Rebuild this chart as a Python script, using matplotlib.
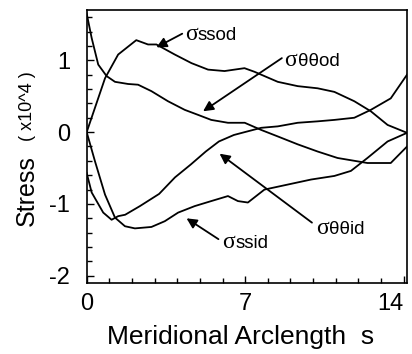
import matplotlib
matplotlib.use("Agg")
import matplotlib.pyplot as plt
from matplotlib.ticker import MultipleLocator

plt.rcParams['font.family'] = ['Liberation Sans', 'DejaVu Sans']
plt.rcParams['axes.unicode_minus'] = False

# --- data (meridional arclength s, stress x10^4) ---
s_ssod = [0.0, 0.81, 1.39, 2.19, 2.71, 3.08, 3.89, 4.63, 5.36, 6.09, 6.97, 7.41,
          7.85, 8.44, 9.32, 10.2, 10.94, 11.82, 12.55, 13.29, 14.15]
v_ssod = [0.0, 0.75, 1.08, 1.28, 1.22, 1.22, 1.08, 0.96, 0.87, 0.85, 0.89, 0.84,
          0.78, 0.70, 0.64, 0.61, 0.56, 0.43, 0.29, 0.10, -0.01]

s_ttod = [0.0, 0.22, 0.51, 0.88, 1.25, 1.83, 2.27, 2.86, 3.59, 4.33, 4.92, 5.5,
          6.24, 6.98, 7.71, 8.44, 9.32, 10.2, 11.08, 12.4, 13.43, 14.15]
v_ttod = [1.65, 1.31, 0.94, 0.78, 0.70, 0.67, 0.66, 0.57, 0.43, 0.31, 0.24, 0.17,
          0.13, 0.13, 0.03, -0.06, -0.17, -0.27, -0.36, -0.43, -0.43, -0.20]

s_ssid = [0.0, 0.37, 0.81, 1.25, 1.69, 2.13, 2.86, 3.45, 4.04, 4.77, 5.5, 6.24,
          6.68, 7.12, 7.85, 8.88, 9.91, 10.94, 11.67, 12.4, 13.29, 14.15]
v_ssid = [0.0, -0.41, -0.87, -1.19, -1.31, -1.34, -1.32, -1.24, -1.12, -1.03, -0.96, -0.89,
          -0.96, -0.98, -0.80, -0.73, -0.66, -0.61, -0.54, -0.36, -0.13, -0.01]

s_ttid = [0.0, 0.22, 0.73, 1.1, 1.39, 1.7, 2.35, 3.2, 3.9, 4.6, 5.26, 5.84,
          6.5, 6.98, 7.71, 8.44, 9.32, 10.2, 10.94, 11.82, 12.55, 13.43, 14.15]
v_ttid = [-0.57, -0.84, -1.12, -1.22, -1.17, -1.15, -1.03, -0.86, -0.63, -0.45, -0.27, -0.13,
          -0.04, 0.0, 0.06, 0.08, 0.13, 0.15, 0.17, 0.20, 0.31, 0.47, 0.80]

x_ticks = [0, 7, 14]
y_ticks = [-2, -1, 0, 1]

# curve labels: suffix, label position (s, stress baseline), arrow start, arrow tip
labels = ["ssod", "θθod", "θθid", "ssid"]
label_pos = [(4.33, 1.28), (8.74, 0.92), (10.13, -1.42), (5.97, -1.61)]
arrow_from = [(4.22, 1.37), (8.62, 1.03), (9.95, -1.26), (5.82, -1.49)]
arrow_to = [(3.08, 1.18), (5.14, 0.29), (5.87, -0.30), (4.41, -1.20)]

fig = plt.figure(figsize=(4.12, 3.54), dpi=100)
ax = fig.add_axes([0.2104, 0.2006, 0.7776, 0.7712])

for s, v in [(s_ssod, v_ssod), (s_ttod, v_ttod), (s_ssid, v_ssid), (s_ttid, v_ttid)]:
    ax.plot(s, v, color='black', lw=1.3)

ax.set_xlim(0, 14.15)
ax.set_ylim(-2.1, 1.7)
ax.set_xticks(x_ticks)
ax.set_yticks(y_ticks)
ax.xaxis.set_minor_locator(MultipleLocator(1))
ax.yaxis.set_minor_locator(MultipleLocator(0.2))
ax.tick_params(which='both', direction='in', labelsize=17, width=1.0)
ax.tick_params(which='major', length=5)
ax.tick_params(which='minor', length=3.5)
ax.tick_params(axis='y', pad=12)
ax.tick_params(axis='x', pad=7)
xl = ax.get_xticklabels()
xl[-1].set_horizontalalignment('right')
xl[-1].set_x(14.1)
for sp in ax.spines.values():
    sp.set_linewidth(1.2)

fig.text(0.585, 0.028, "Meridional Arclength  s", ha='center', va='baseline', fontsize=19)
fig.text(0.066, 0.463, "Stress", rotation=90, ha='center', va='center', fontsize=18)
fig.text(0.066, 0.700, "( x10^4 )", rotation=90, ha='center', va='center', fontsize=13)

arrow = dict(arrowstyle='-|>', color='black', lw=1.3, mutation_scale=15,
             shrinkA=0, shrinkB=0)

fig.canvas.draw()
renderer = fig.canvas.get_renderer()
for lab, (lx, ly), a0, a1 in zip(labels, label_pos, arrow_from, arrow_to):
    sig = ax.text(lx, ly, "σ", family='Liberation Serif', fontsize=17,
                  ha='left', va='baseline')
    bb = sig.get_window_extent(renderer)
    x_end, _ = ax.transData.inverted().transform((bb.x1 + 0.5, bb.y0))
    ax.text(x_end, ly, lab, fontsize=13.5, ha='left', va='baseline')
    ax.annotate("", xy=a1, xytext=a0, arrowprops=arrow)

fig.savefig("out.png", dpi=100)
